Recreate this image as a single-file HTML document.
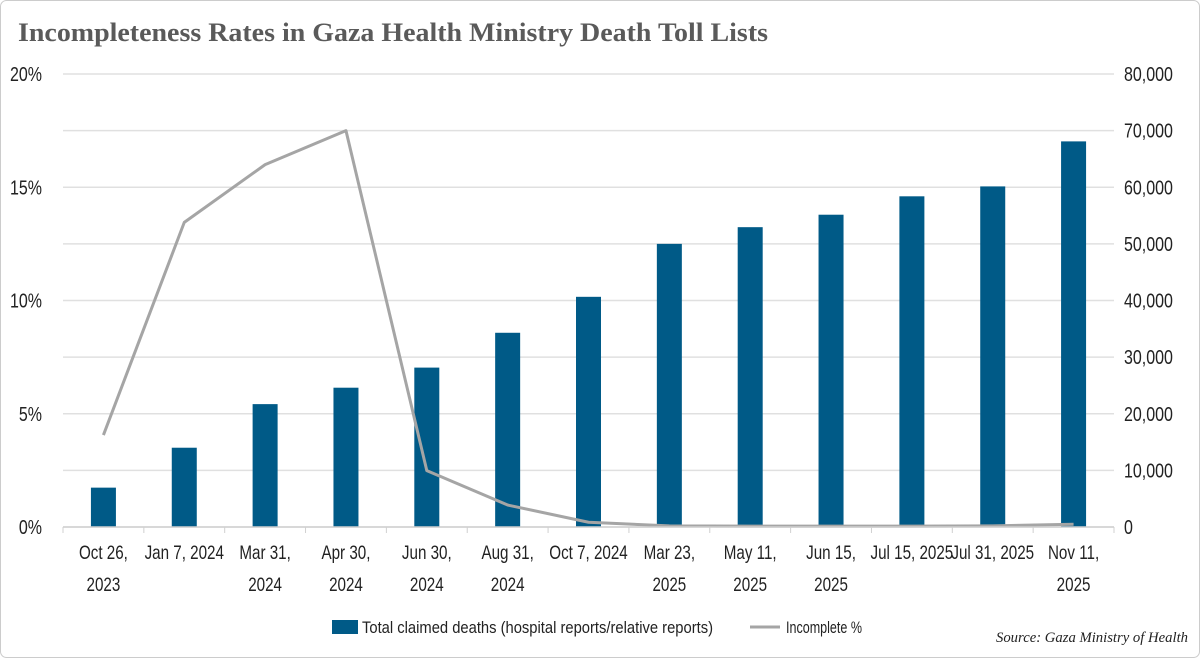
<!DOCTYPE html>
<html><head><meta charset="utf-8"><style>
html,body{margin:0;padding:0;background:#fff}
body{width:1200px;height:658px;overflow:hidden;position:relative}
svg{position:absolute;left:0;top:0}
text{font-family:"Liberation Sans Narrow","Liberation Sans",sans-serif;fill:#222}
</style></head><body>
<svg id="chart" width="1200" height="658">
<rect x="0.5" y="0.5" width="1199" height="657" rx="6" fill="#fff" stroke="#ccc"/>
<text x="18" y="41" textLength="750" lengthAdjust="spacingAndGlyphs" style="font-family:'Liberation Serif',serif;font-size:26px;font-weight:bold;fill:#5a5a5a">Incompleteness Rates in Gaza Health Ministry Death Toll Lists</text>
<g id="grid"></g><g id="bars"></g><g id="line"></g><g id="axes"></g>
<g>
<rect x="332" y="620" width="26" height="14" fill="#005a87"/>
<text x="362" y="633" font-size="17" textLength="351" lengthAdjust="spacingAndGlyphs">Total claimed deaths (hospital reports/relative reports)</text>
<line x1="750" y1="627" x2="780" y2="627" stroke="#a5a5a5" stroke-width="3"/>
<text x="786" y="633" font-size="17" textLength="76" lengthAdjust="spacingAndGlyphs">Incomplete %</text>
</g>
<text x="1188" y="642" text-anchor="end" font-size="15" textLength="192" lengthAdjust="spacingAndGlyphs" style="font-family:'Liberation Serif',serif;font-style:italic">Source: Gaza Ministry of Health</text>
</svg>
<script>
const categories=[["Oct 26,","2023"],["Jan 7, 2024"],["Mar 31,","2024"],["Apr 30,","2024"],["Jun 30,","2024"],["Aug 31,","2024"],["Oct 7, 2024"],["Mar 23,","2025"],["May 11,","2025"],["Jun 15,","2025"],["Jul 15, 2025"],["Jul 31, 2025"],["Nov 11,","2025"]];
const deaths=[6950,14000,21700,24600,28150,34300,40650,50000,52950,55150,58400,60150,68100];
const incompletePct=[4.06,13.45,16.0,17.5,2.49,0.97,0.21,0.05,0.04,0.04,0.04,0.05,0.12];
const leftTicks=["0%","5%","10%","15%","20%"];
const leftTickValues=[0,5,10,15,20];
const rightTicks=["0","10,000","20,000","30,000","40,000","50,000","60,000","70,000","80,000"];
const rightTickValues=[0,10000,20000,30000,40000,50000,60000,70000,80000];

const NS="http://www.w3.org/2000/svg";
const X0=63,X1=1114,Y0=527,Y1=74;
const band=(X1-X0)/categories.length;
const xc=i=>X0+band*(i+0.5);
const yL=v=>Y0-(v/20)*(Y0-Y1);
const yR=v=>Y0-(v/80000)*(Y0-Y1);
const SX=0.8;
function mk(tag,attrs,parent){const e=document.createElementNS(NS,tag);for(const k in attrs)e.setAttribute(k,attrs[k]);parent.appendChild(e);return e;}
function ctext(x,y,size,anchor,parent){return mk('text',{x:0,y:0,'font-size':size,'text-anchor':anchor,transform:`translate(${x},${y}) scale(${SX},1)`},parent);}
const grid=document.getElementById('grid'),bars=document.getElementById('bars'),lineG=document.getElementById('line'),axes=document.getElementById('axes');
rightTickValues.forEach((v,i)=>{
  const l=mk('line',{x1:X0,x2:X1,y1:yR(v),y2:yR(v),stroke:'#e0e0e0','stroke-width':1.5},grid);
  
  
  const t=ctext(1124,yR(v)+7,20,'start',axes);
  t.textContent=rightTicks[i];
  
  
});
leftTickValues.forEach((v,i)=>{
  const t=ctext(42,yL(v)+7,20,'end',axes);
  t.textContent=leftTicks[i];
  
  
});
const ax=mk('line',{x1:X0,x2:X1,y1:Y0,y2:Y0,stroke:'#d0d0d0','stroke-width':1.5},axes);


for(let i=0;i<=categories.length;i++){
  const tk=mk('line',{x1:X0+band*i,x2:X0+band*i,y1:Y0,y2:Y0+6,stroke:'#d0d0d0','stroke-width':1},axes);
  
  
}
categories.forEach((c,i)=>{
  c.forEach((s,j)=>{
    const t=ctext(xc(i),559+j*32,19,'middle',axes);
    t.textContent=s;
    
    
  });
  const b=mk('rect',{x:xc(i)-12.5,y:yR(deaths[i]),width:25,height:Y0-yR(deaths[i]),fill:'#005a87'},bars);
  
  
});
const pts=incompletePct.map((v,i)=>xc(i)+','+yL(v)).join(' ');
const pl=mk('polyline',{points:pts,fill:'none',stroke:'#a5a5a5','stroke-width':3,'stroke-linejoin':'round'},lineG);


</script>
</body></html>
